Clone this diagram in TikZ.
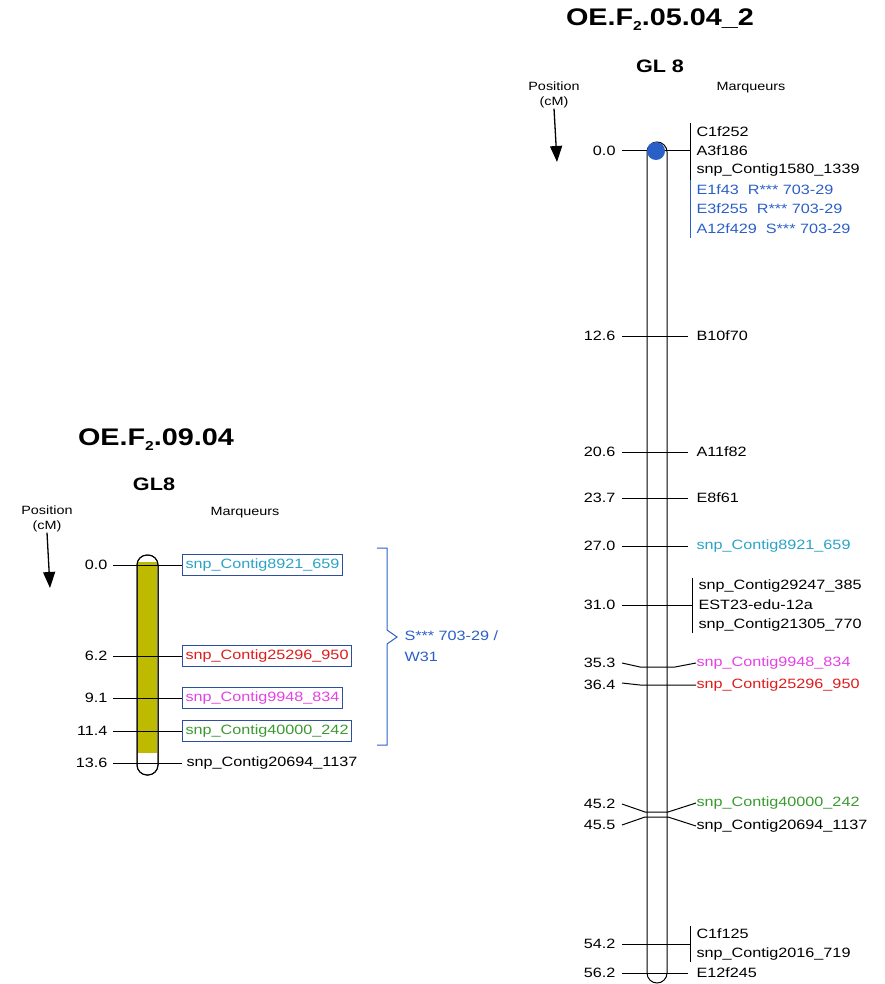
\documentclass[tikz,border=0pt]{standalone}
\usepackage{fontspec}
\setmainfont{Liberation Sans}[FakeStretch=1.2]
\usetikzlibrary{arrows.meta}
\definecolor{mapblue}{HTML}{2B5FC8}
\definecolor{boxblue}{HTML}{2E4E9E}
\definecolor{cyanmk}{HTML}{2BA3C6}
\definecolor{redmk}{HTML}{E01B1B}
\definecolor{magmk}{HTML}{E442E4}
\definecolor{greenmk}{HTML}{3A9A30}
\definecolor{chrfill}{HTML}{BDBA00}
\newcommand{\subtwo}{\raisebox{-5pt}{\fontsize{13}{13}\selectfont 2}}

\begin{document}
\begin{tikzpicture}[x=1pt,y=-1pt,line width=1pt,
	ttl/.style={font=\fontsize{24}{26}\selectfont\bfseries},
	lg/.style={font=\fontsize{18}{20}\selectfont\bfseries},
	hd/.style={font=\fontsize{12}{15}\selectfont, align=center, inner sep=0pt},
	cmpos/.style={font=\fontsize{13.5}{16}\selectfont, anchor=east, inner sep=0pt},
	mkr/.style={font=\fontsize{13.5}{16}\selectfont, anchor=west, inner sep=0pt},
	mkrbox/.style={mkr, draw=boxblue, inner xsep=3pt, minimum height=21pt},
	chrom/.style={draw, rounded corners=10pt},
	arw/.style={line width=1.3pt, -{Triangle[length=16pt,width=12pt]}}
]
\useasboundingbox (0,0) rectangle (884,984);

% left map
\node at (156,440) (t1) [ttl] {OE.F\subtwo.09.04};
\node at (154,484) (g1) [lg] {GL8};
\node at (47,519) (h1) [hd] {Position\\(cM)};
\node at (245,513) (k1) [hd] {Marqueurs};
\coordinate (a1) at (50,588);
\draw[arw] (h1.south) -- (a1);

\draw[chrom, fill=white] (137,555) rectangle (158,775);
\fill[chrfill] (138,562) rectangle (157,753);
\draw[chrom] (137,555) rectangle (158,775);

\foreach \v/\y [count=\i] in {0.0/565, 6.2/656, 9.1/698, 11.4/731, 13.6/763} {
	\node at (108,\y) (lp\i) [cmpos] {\v};
	\coordinate (ll\i) at (113,\y);
	\coordinate (lr\i) at (182,\y);
	\draw (ll\i) -- (lr\i);
}
\node at (lr1) (lb1) [mkrbox, text=cyanmk] {snp\_Contig8921\_659};
\node at (lr2) (lb2) [mkrbox, text=redmk] {snp\_Contig25296\_950};
\node at (lr3) (lb3) [mkrbox, text=magmk] {snp\_Contig9948\_834};
\node at (lr4) (lb4) [mkrbox, text=greenmk] {snp\_Contig40000\_242};
\node at (186,763) (lb5) [mkr] {snp\_Contig20694\_1137};

\coordinate (q1) at (377,548);
\coordinate (q2) at (377,745);
\coordinate (tip) at (397,637);
\draw[mapblue] (q1) -- ++(10,0) -- (387,630) -- (tip) -- (387,644) -- (387,745) -- (q2);
\node at (404,646) (qtl) [mkr, text=mapblue, align=left, font=\fontsize{13.5}{21}\selectfont] {S*** 703-29 /\\W31};

% right map
\node at (660,20) (t2) [ttl] {OE.F\subtwo.05.04\_2};
\node at (660,66) (g2) [lg] {GL 8};
\node at (554,95) (h2) [hd] {Position\\(cM)};
\node at (751,88) (k2) [hd] {Marqueurs};
\coordinate (a2) at (557,162);
\draw[arw] (h2.south) -- (a2);

\draw[chrom, fill=white] (647,142) rectangle (667,983);

\foreach \v/\y/\lab/\col [count=\i] in {12.6/336/B10f70/black, 20.6/452/A11f82/black, 23.7/498/E8f61/black, 27.0/546/{snp\_Contig8921\_659}/cyanmk, 56.2/973/E12f245/black} {
	\node at (616,\y) (rp\i) [cmpos] {\v};
	\coordinate (rl\i) at (622,\y);
	\coordinate (rr\i) at (688,\y);
	\draw (rl\i) -- (rr\i);
	\node at (696,\y) (rm\i) [mkr, text=\col] {\lab};
}

\node at (616,151) (rp0) [cmpos] {0.0};
\coordinate (rl0) at (622,151);
\coordinate (rb0) at (690,151);
\draw (rl0) -- (rb0);
\coordinate (bt0) at (690,123);
\coordinate (bm0) at (690,180);
\coordinate (bb0) at (690,238);
\draw (bt0) -- (bm0);
\draw[mapblue] (bm0) -- (bb0);
\node at (656,151) (dot) [circle, fill=mapblue, minimum size=18pt, inner sep=0pt] {};
\node at (696,132) (m01) [mkr] {C1f252};
\node at (696,151) (m02) [mkr] {A3f186};
\node at (696,170.5) (m03) [mkr] {snp\_Contig1580\_1339};
\node at (696,190) (m04) [mkr, text=mapblue] {E1f43\hspace{9pt}R*** 703-29};
\node at (696,209) (m05) [mkr, text=mapblue] {E3f255\hspace{9pt}R*** 703-29};
\node at (696,228.5) (m06) [mkr, text=mapblue] {A12f429\hspace{9pt}S*** 703-29};

\node at (616,605) (rp6) [cmpos] {31.0};
\coordinate (rl6) at (622,605);
\coordinate (rb6) at (692,605);
\draw (rl6) -- (rb6);
\coordinate (bt6) at (692,578);
\coordinate (bb6) at (692,633);
\draw (bt6) -- (bb6);
\node at (698,586) (m61) [mkr] {snp\_Contig29247\_385};
\node at (698,605) (m62) [mkr] {EST23-edu-12a};
\node at (698,625) (m63) [mkr] {snp\_Contig21305\_770};

\node at (616,663) (rp7) [cmpos] {35.3};
\node at (696,663) (m7) [mkr, text=magmk] {snp\_Contig9948\_834};
\coordinate (rl7) at (622,663);
\draw (rl7) -- ++(18,4) -- ++(35,0) -- (m7.west);

\node at (616,685) (rp8) [cmpos] {36.4};
\node at (696,685) (m8) [mkr, text=redmk] {snp\_Contig25296\_950};
\coordinate (rl8) at (622,683);
\draw (rl8) -- ++(18,2) -- (m8.west);

\node at (616,804) (rp9) [cmpos] {45.2};
\node at (696,803) (m9) [mkr, text=greenmk] {snp\_Contig40000\_242};
\coordinate (rl9) at (622,804);
\draw (rl9) -- ++(23,8) -- ++(23,0) -- (m9.west);

\node at (616,825) (rp10) [cmpos] {45.5};
\node at (696,826) (m10) [mkr] {snp\_Contig20694\_1137};
\coordinate (rl10) at (622,825);
\draw (rl10) -- ++(23,-8) -- ++(23,0) -- (m10.west);

\node at (616,944) (rp11) [cmpos] {54.2};
\coordinate (rl11) at (622,944);
\coordinate (rb11) at (690,944);
\draw (rl11) -- (rb11);
\coordinate (bt11) at (690,926);
\coordinate (bb11) at (690,962);
\draw (bt11) -- (bb11);
\node at (696,934) (m111) [mkr] {C1f125};
\node at (696,954) (m112) [mkr] {snp\_Contig2016\_719};

\end{tikzpicture}
\end{document}
